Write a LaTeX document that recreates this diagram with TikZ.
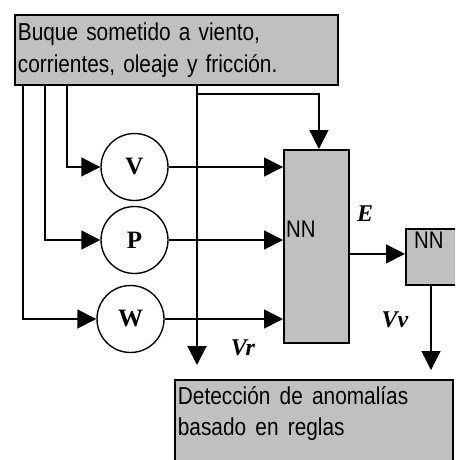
\documentclass[tikz,border=0pt]{standalone}
\usepackage{fontspec}
\setmainfont{Liberation Sans}[FakeStretch=0.85, WordSpace=1.6]
\newfontfamily\tnr{Liberation Serif}
\usetikzlibrary{arrows.meta}
\definecolor{boxgray}{HTML}{C0C0C0}
\tikzset{
 box/.style={draw=black, fill=boxgray, line width=1.8pt, inner sep=0pt},
 sens/.style={circle, draw=black, line width=1.4pt, minimum size=67pt, inner sep=0pt, font=\tnr\bfseries\fontsize{25}{25}\selectfont},
 conn/.style={line width=1.5pt, -{Triangle[length=19pt,width=19pt]}},
 sanslbl/.style={font=\fontsize{24}{30}\selectfont, inner sep=0pt},
 varlbl/.style={font=\tnr\bfseries\itshape\fontsize{24}{24}\selectfont, inner sep=0pt},
}
\begin{document}
\begin{tikzpicture}[x=1pt,y=-1pt]
\useasboundingbox (0,0) rectangle (455,460);
\clip (0,0) rectangle (455,460);
% boxes
\node[box, anchor=north west, minimum width=323pt, minimum height=70pt, text width=317pt, inner xsep=3pt, align=left, font=\fontsize{24.5}{32}\selectfont] (src) at (14,14) {Buque sometido a viento,\\corrientes, oleaje y fricción.};
\node[box, anchor=north west, inner xsep=3pt, inner ysep=7pt, font=\fontsize{24.5}{31}\selectfont] (det) at (174,379) {\parbox[c][86pt][t]{272pt}{\raggedright Detección de anomalías\\basado en reglas}};
\node[box, anchor=north west, minimum width=65pt, minimum height=193pt] (nn1) at (283,149) {};
\node[sanslbl, anchor=base west] (nn1t) at (286,237) {NN};
\node[box, anchor=north west, minimum width=56pt, minimum height=56pt] (nn2) at (405,228) {};
\node[sanslbl, anchor=base west] (nn2t) at (414,248) {NN};
% sensors
\node[sens] (V) at (134.5,167) {V};
\node[sens] (P) at (134.5,240) {P};
\node[sens] (W) at (130.5,319) {W};
% connectors
\draw[conn] ([xshift=53pt]src.south west) |- (V.west);
\draw[conn] ([xshift=31pt]src.south west) |- (P.west);
\draw[conn] ([xshift=9pt]src.south west) |- (W.west);
\coordinate (vrend) at (197,365);
\draw[conn, line width=2pt] (src.south west -| vrend) -- (vrend);
\coordinate (br) at (197,94);
\draw[conn] (br) -| ([xshift=2.5pt]nn1.north);
\draw[conn] (V.east) -- (V.east -| nn1.west);
\draw[conn] (P.east) -- (P.east -| nn1.west);
\draw[conn] (W.east) -- (W.east -| nn1.west);
\draw[conn] ([yshift=3pt]nn2.west -| nn1.east) -- ([yshift=3pt]nn2.west);
\coordinate (vvend) at (431,370);
\draw[conn] (nn2.south -| vvend) -- (vvend);
% labels
\node[varlbl] (E) at (365,214) {E};
\node[varlbl] (Vv) at (395,320) {Vv};
\node[varlbl] (Vr) at (243,348) {Vr};
\end{tikzpicture}
\end{document}
